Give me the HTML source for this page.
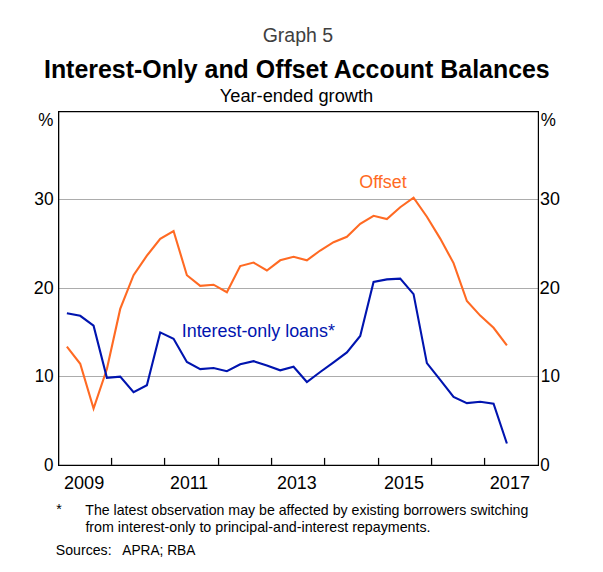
<!DOCTYPE html>
<html><head><meta charset="utf-8"><style>
html,body{margin:0;padding:0;background:#fff;}
body{width:603px;height:572px;overflow:hidden;}
svg{display:block;font-family:"Liberation Sans",sans-serif;}
</style></head><body>
<svg width="603" height="572" viewBox="0 0 603 572">
<rect x="0" y="0" width="603" height="572" fill="#fff"/>
<g id="chart">
<rect x="58" y="376.00" width="480" height="1" fill="#acacac"/>
<rect x="58" y="288.00" width="480" height="1" fill="#acacac"/>
<rect x="58" y="199.00" width="480" height="1" fill="#acacac"/>

<rect x="110.95" y="457.9" width="1.25" height="7" fill="#000"/>
<rect x="163.95" y="457.9" width="1.25" height="7" fill="#000"/>
<rect x="217.95" y="457.9" width="1.25" height="7" fill="#000"/>
<rect x="270.95" y="457.9" width="1.25" height="7" fill="#000"/>
<rect x="323.95" y="457.9" width="1.25" height="7" fill="#000"/>
<rect x="377.95" y="457.9" width="1.25" height="7" fill="#000"/>
<rect x="430.95" y="457.9" width="1.25" height="7" fill="#000"/>
<rect x="483.95" y="457.9" width="1.25" height="7" fill="#000"/>

<path d="M58,111H539V112.2H58Z M58,464.8H539V466H58Z M58,111H59.3V466H58Z M537.8,111H539V466H537.8Z" fill="#000"/>
<polyline points="66.89,346.70 80.22,363.80 93.56,408.60 106.89,369.00 120.22,308.90 133.56,275.20 146.89,255.70 160.22,238.80 173.56,231.00 186.89,275.20 200.22,285.90 213.56,284.70 226.89,292.20 240.22,266.10 253.56,262.60 266.89,270.50 280.22,260.30 293.56,256.80 306.89,260.30 320.22,250.50 333.56,242.20 346.89,236.80 360.22,223.80 373.56,215.80 386.89,219.00 400.22,207.20 413.56,197.60 426.89,216.70 440.22,238.60 453.56,263.10 466.89,301.00 480.22,315.60 493.56,327.80 506.89,345.30" fill="none" stroke="#ff6a23" stroke-width="2.1" stroke-linejoin="miter"/>
<polyline points="66.89,313.20 80.22,315.80 93.56,325.70 106.89,377.80 120.22,376.60 133.56,392.10 146.89,385.20 160.22,332.40 173.56,338.80 186.89,361.90 200.22,369.10 213.56,368.00 226.89,371.20 240.22,364.20 253.56,361.20 266.89,365.40 280.22,370.30 293.56,366.80 306.89,382.00 320.22,372.00 333.56,362.30 346.89,352.40 360.22,336.00 373.56,281.90 386.89,279.40 400.22,278.60 413.56,294.10 426.89,363.10 440.22,379.90 453.56,396.90 466.89,403.10 480.22,401.70 493.56,403.70 506.89,443.50" fill="none" stroke="#0014af" stroke-width="2.1" stroke-linejoin="miter"/>
</g>
<text id="g5" x="262.70" y="42.27" font-size="20.5" fill="#404040" textLength="70.45" lengthAdjust="spacingAndGlyphs">Graph 5</text>
<text id="title" x="43.99" y="77.98" font-size="25.2" fill="#000" font-weight="bold" textLength="505.71" lengthAdjust="spacingAndGlyphs">Interest-Only and Offset Account Balances</text>
<text id="sub" x="219.78" y="101.94" font-size="17.5" fill="#000" textLength="153.46" lengthAdjust="spacingAndGlyphs">Year-ended growth</text>
<text id="pL" x="38.33" y="125.98" font-size="17.5" fill="#000" textLength="15.12" lengthAdjust="spacingAndGlyphs">%</text>
<text id="pR" x="540.64" y="126.00" font-size="17.5" fill="#000" textLength="15.12" lengthAdjust="spacingAndGlyphs">%</text>
<text id="30L" x="34.23" y="204.94" font-size="17.5" fill="#000" textLength="19.35" lengthAdjust="spacingAndGlyphs">30</text>
<text id="20L" x="33.81" y="293.98" font-size="17.5" fill="#000" textLength="19.89" lengthAdjust="spacingAndGlyphs">20</text>
<text id="10L" x="34.86" y="381.98" font-size="17.5" fill="#000" textLength="18.72" lengthAdjust="spacingAndGlyphs">10</text>
<text id="0L" x="44.04" y="471.15" font-size="17.5" fill="#000" textLength="9.47" lengthAdjust="spacingAndGlyphs">0</text>
<text id="30R" x="539.95" y="204.94" font-size="17.5" fill="#000" textLength="19.90" lengthAdjust="spacingAndGlyphs">30</text>
<text id="20R" x="539.59" y="294.02" font-size="17.5" fill="#000" textLength="20.52" lengthAdjust="spacingAndGlyphs">20</text>
<text id="10R" x="540.86" y="381.98" font-size="17.5" fill="#000" textLength="19.05" lengthAdjust="spacingAndGlyphs">10</text>
<text id="0R" x="540.14" y="471.13" font-size="17.5" fill="#000" textLength="9.47" lengthAdjust="spacingAndGlyphs">0</text>
<text id="y2009" x="63.97" y="488.98" font-size="17.5" fill="#000" textLength="40.24" lengthAdjust="spacingAndGlyphs">2009</text>
<text id="y2011" x="170.07" y="488.98" font-size="17.5" fill="#000" textLength="38.01" lengthAdjust="spacingAndGlyphs">2011</text>
<text id="y2013" x="276.97" y="488.98" font-size="17.5" fill="#000" textLength="39.73" lengthAdjust="spacingAndGlyphs">2013</text>
<text id="y2015" x="383.97" y="488.98" font-size="17.5" fill="#000" textLength="40.10" lengthAdjust="spacingAndGlyphs">2015</text>
<text id="y2017" x="489.81" y="488.98" font-size="17.5" fill="#000" textLength="40.28" lengthAdjust="spacingAndGlyphs">2017</text>
<text id="offset" x="359.23" y="187.89" font-size="17.5" fill="#ff6a23" textLength="47.46" lengthAdjust="spacingAndGlyphs">Offset</text>
<text id="io" x="181.72" y="337.08" font-size="17.5" fill="#0014af" textLength="153.21" lengthAdjust="spacingAndGlyphs">Interest-only loans*</text>
<text id="star" x="56.29" y="514.45" font-size="14.1" fill="#000" textLength="5.53" lengthAdjust="spacingAndGlyphs">*</text>
<text id="fn1" x="85.32" y="514.73" font-size="14.1" fill="#000" textLength="443.05" lengthAdjust="spacingAndGlyphs">The latest observation may be affected by existing borrowers switching</text>
<text id="fn2" x="85.40" y="531.96" font-size="14.1" fill="#000" textLength="345.18" lengthAdjust="spacingAndGlyphs">from interest-only to principal-and-interest repayments.</text>
<text id="src" x="55.85" y="554.92" font-size="14.1" fill="#000" textLength="55.74" lengthAdjust="spacingAndGlyphs">Sources:</text>
<text id="apra" x="122.26" y="554.79" font-size="14.1" fill="#000" textLength="73.09" lengthAdjust="spacingAndGlyphs">APRA; RBA</text>
</svg>
</body></html>
